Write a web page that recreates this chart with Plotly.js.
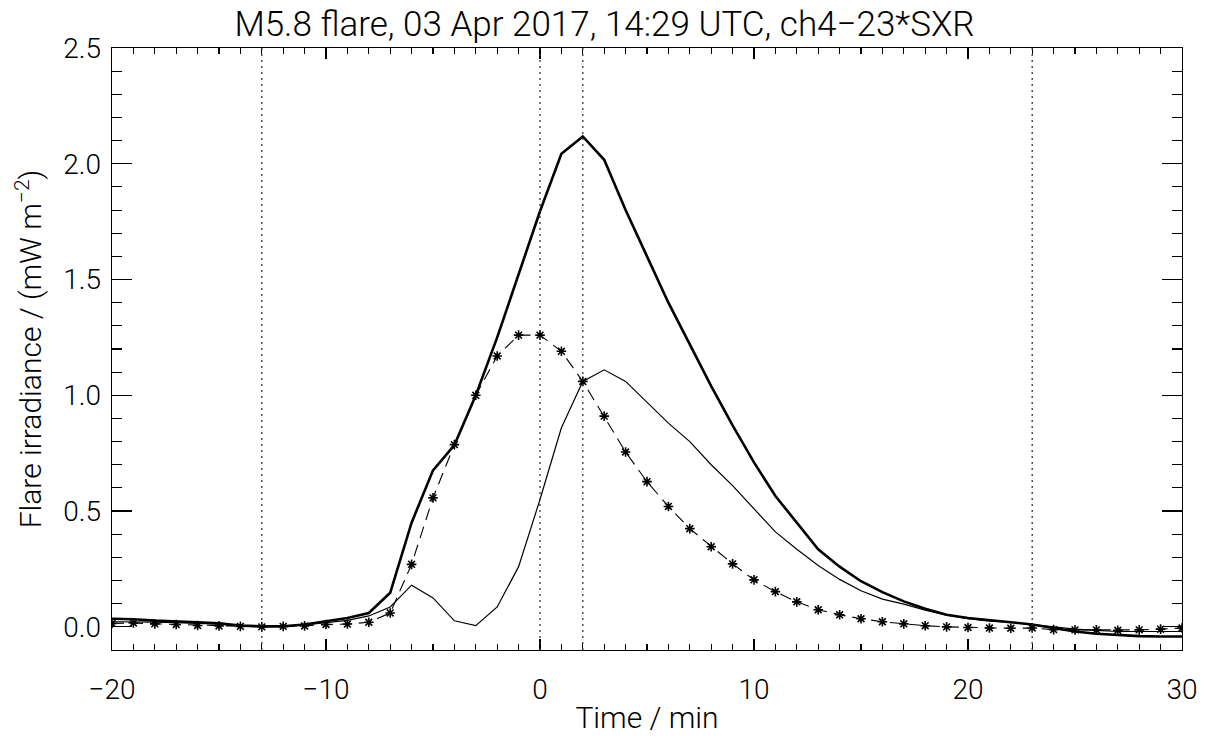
<!DOCTYPE html>
<html>
<head>
<meta charset="utf-8">
<script src="https://cdn.plot.ly/plotly-3.0.1.min.js"></script>
<style>
html,body{margin:0;padding:0;background:#fff;}
#chart{width:1209px;height:737px;}
</style>
</head>
<body>
<div id="chart"></div>
<script>
// Time axis (minutes relative to flare time)
var time = [-20,-19,-18,-17,-16,-15,-14,-13,-12,-11,-10,-9,-8,-7,-6,-5,-4,-3,-2,-1,0,1,2,3,4,5,6,7,8,9,10,11,12,13,14,15,16,17,18,19,20,21,22,23,24,25,26,27,28,29,30];

// Thick solid line
var thickSeries = [0.035,0.033,0.027,0.025,0.02,0.015,0.006,0.002,0.002,0.01,0.024,0.038,0.06,0.147,0.45,0.676,0.785,1.0,1.25,1.527,1.795,2.043,2.118,2.017,1.80,1.60,1.40,1.22,1.04,0.87,0.71,0.565,0.45,0.335,0.26,0.197,0.15,0.11,0.078,0.052,0.038,0.03,0.02,0.01,-0.005,-0.02,-0.03,-0.036,-0.04,-0.042,-0.042];

// Thin solid line
var thinSeries = [0.022,0.022,0.02,0.018,0.015,0.012,0.005,0.002,0.002,0.008,0.018,0.028,0.047,0.086,0.18,0.125,0.026,0.005,0.086,0.26,0.55,0.86,1.06,1.11,1.06,0.97,0.88,0.80,0.70,0.61,0.51,0.41,0.335,0.265,0.205,0.156,0.12,0.098,0.072,0.05,0.035,0.025,0.02,0.01,0.0,-0.01,-0.015,-0.02,-0.02,-0.02,-0.02];

// Dashed line with asterisks
var starSeries = [0.015,0.017,0.013,0.01,0.006,0.004,0.002,0.0,0.002,0.004,0.01,0.012,0.02,0.06,0.27,0.557,0.787,1.0,1.17,1.26,1.26,1.19,1.06,0.91,0.755,0.627,0.52,0.424,0.346,0.272,0.203,0.152,0.108,0.074,0.052,0.035,0.022,0.013,0.005,0.0,-0.003,-0.005,-0.006,-0.005,-0.012,-0.013,-0.013,-0.015,-0.013,-0.01,-0.005];

// Vertical dotted reference times
var refTimes = [-13, 0, 2, 23];

var titleText = 'M5.8 flare, 03 Apr 2017, 14:29 UTC, ch4\u221223*SXR';
var xTitle = 'Time / min';
var yTitle = 'Flare irradiance / (mW m<sup>\u22122</sup>)';

var FONT = 'Roboto, Liberation Sans, sans-serif';

var traces = [
  {x: time, y: thickSeries, type: 'scatter', mode: 'lines',
   line: {color: '#000', width: 2.6}, hoverinfo: 'skip'},
  {x: time, y: thinSeries, type: 'scatter', mode: 'lines',
   line: {color: '#000', width: 1.2}, hoverinfo: 'skip'},
  {x: time, y: starSeries, type: 'scatter', mode: 'lines+markers',
   line: {color: '#000', width: 1.1, dash: '12px,7px'},
   marker: {symbol: 'asterisk-open', size: 8, color: '#000', line: {color: '#000', width: 1.6}},
   hoverinfo: 'skip'}
];

var shapes = refTimes.map(function(t){
  return {type: 'line', xref: 'x', yref: 'paper', x0: t, x1: t, y0: 0, y1: 1,
          line: {color: '#333', width: 1.3, dash: '2px,4px'}};
});

var axisCommon = {
  showgrid: false, zeroline: false, showline: true, linecolor: '#000', linewidth: 1.4,
  mirror: 'allticks', ticks: 'inside', tickcolor: '#000', tickwidth: 1.3,
  tickfont: {family: FONT, size: 28, color: '#000', weight: 300}
};

var layout = {
  width: 1209, height: 737,
  margin: {l: 112, r: 27, t: 48, b: 87},
  paper_bgcolor: '#fff', plot_bgcolor: '#fff',
  showlegend: false,
  title: {text: titleText, font: {family: FONT, size: 35, color: '#000', weight: 300},
          x: 0.5, xanchor: 'center', y: 0.968, yanchor: 'middle'},
  xaxis: Object.assign({}, axisCommon, {
    range: [-20, 30], tickmode: 'linear', tick0: -20, dtick: 10, ticklen: 11,
    ticklabelstandoff: 14,
    minor: {dtick: 1, ticklen: 6, tickcolor: '#000', tickwidth: 1.1, ticks: 'inside', showgrid: false},
    title: {text: xTitle, font: {family: FONT, size: 30, color: '#000', weight: 300}, standoff: 2}
  }),
  yaxis: Object.assign({}, axisCommon, {
    range: [-0.1, 2.5], tickmode: 'linear', tick0: 0, dtick: 0.5, ticklen: 20,
    tickformat: '.1f', ticklabelstandoff: 4,
    minor: {dtick: 0.1, ticklen: 10, tickcolor: '#000', tickwidth: 1.1, ticks: 'inside', showgrid: false},
    title: {text: yTitle, font: {family: FONT, size: 30, color: '#000', weight: 300}, standoff: 12}
  }),
  shapes: shapes
};

Plotly.newPlot('chart', traces, layout, {displayModeBar: false, staticPlot: true});
</script>
</body>
</html>
